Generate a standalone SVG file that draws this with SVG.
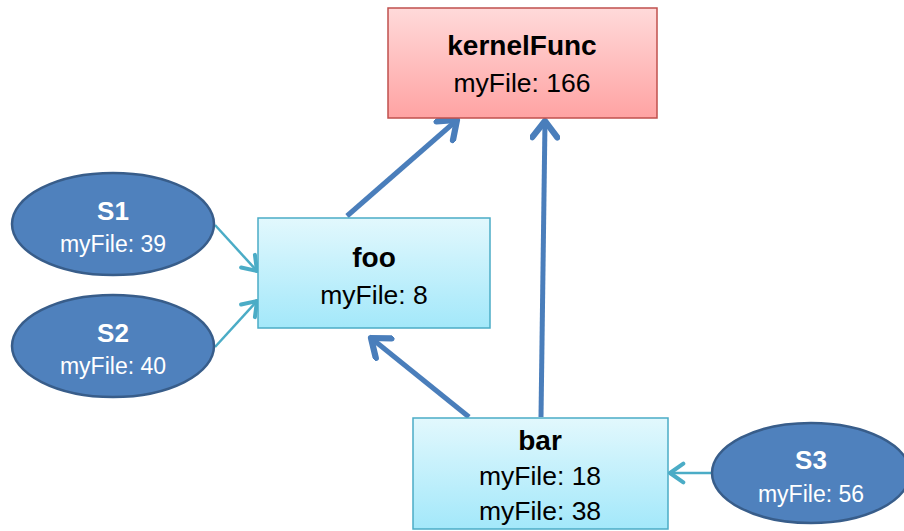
<svg xmlns="http://www.w3.org/2000/svg" width="904" height="531" viewBox="0 0 904 531">
<defs>
<linearGradient id="gRed" x1="0" y1="0" x2="0" y2="1"><stop offset="0" stop-color="#ffdada"/><stop offset="1" stop-color="#ffa3a3"/></linearGradient>
<linearGradient id="gCyan" x1="0" y1="0" x2="0" y2="1"><stop offset="0" stop-color="#e2f8fd"/><stop offset="1" stop-color="#a3e8fa"/></linearGradient>
<marker id="aThick" markerUnits="userSpaceOnUse" markerWidth="30" markerHeight="30" viewBox="-16 -12 20 24" refX="0" refY="0" orient="auto">
<path d="M-13,-10 L0,0 L-13,10" fill="none" stroke="#4a7ebb" stroke-width="5" stroke-linecap="round" stroke-linejoin="round"/>
</marker>
<marker id="aThin" markerUnits="userSpaceOnUse" markerWidth="24" markerHeight="24" viewBox="-12 -9 14 18" refX="0" refY="0" orient="auto">
<path d="M-10,-7 L0,0 L-10,7" fill="none" stroke="#4bacc6" stroke-width="3" stroke-linecap="round" stroke-linejoin="round"/>
</marker>
</defs>
<style>
.rect-red{fill:url(#gRed);stroke:#c0504d;stroke-width:1.5}
.rect-cyan{fill:url(#gCyan);stroke:#4bacc6;stroke-width:1.5}
.ell{fill:#4f81bd;stroke:#385d8a;stroke-width:2.5}
.t{font-family:"Liberation Sans",Arial,sans-serif;text-anchor:middle}
.title{font-size:28px;font-weight:bold;fill:#000}
.sub{font-size:26.5px;fill:#000}
.etitle{font-size:26px;font-weight:bold;fill:#fff}
.esub{font-size:23px;fill:#fff}
.thick{fill:none;stroke:#4a7ebb;stroke-width:5;marker-end:url(#aThick)}
.thin{fill:none;stroke:#4bacc6;stroke-width:2.5;marker-end:url(#aThin)}
</style>
<rect width="904" height="531" fill="#ffffff"/>
<g id="connectors">
<line class="thick" x1="347" y1="216" x2="457" y2="120"/>
<line class="thick" x1="541" y1="417" x2="545" y2="121"/>
<line class="thick" x1="469" y1="417" x2="371" y2="338"/>
<line class="thin" x1="215" y1="225" x2="257" y2="271"/>
<line class="thin" x1="215" y1="347" x2="257" y2="301"/>
<line class="thin" x1="712" y1="473" x2="670" y2="473"/>
</g>
<g id="kernelFunc">
<rect class="rect-red" x="388" y="8" width="269" height="110"/>
<text class="t title" x="522" y="55">kernelFunc</text>
<text class="t sub" x="522" y="92">myFile: 166</text>
</g>
<g id="foo">
<rect class="rect-cyan" x="258" y="218" width="232" height="110"/>
<text class="t title" x="374" y="267">foo</text>
<text class="t sub" x="374" y="304">myFile: 8</text>
</g>
<g id="bar">
<rect class="rect-cyan" x="413" y="418" width="255" height="111"/>
<text class="t title" x="540" y="450">bar</text>
<text class="t sub" x="540" y="485">myFile: 18</text>
<text class="t sub" x="540" y="520">myFile: 38</text>
</g>
<g id="S1">
<ellipse class="ell" cx="113" cy="224" rx="101" ry="51"/>
<text class="t etitle" x="113" y="220">S1</text>
<text class="t esub" x="113" y="252">myFile: 39</text>
</g>
<g id="S2">
<ellipse class="ell" cx="113" cy="346" rx="101" ry="51"/>
<text class="t etitle" x="113" y="342">S2</text>
<text class="t esub" x="113" y="374">myFile: 40</text>
</g>
<g id="S3">
<ellipse class="ell" cx="811" cy="473" rx="99" ry="50"/>
<text class="t etitle" x="811" y="469">S3</text>
<text class="t esub" x="811" y="502">myFile: 56</text>
</g>
</svg>
